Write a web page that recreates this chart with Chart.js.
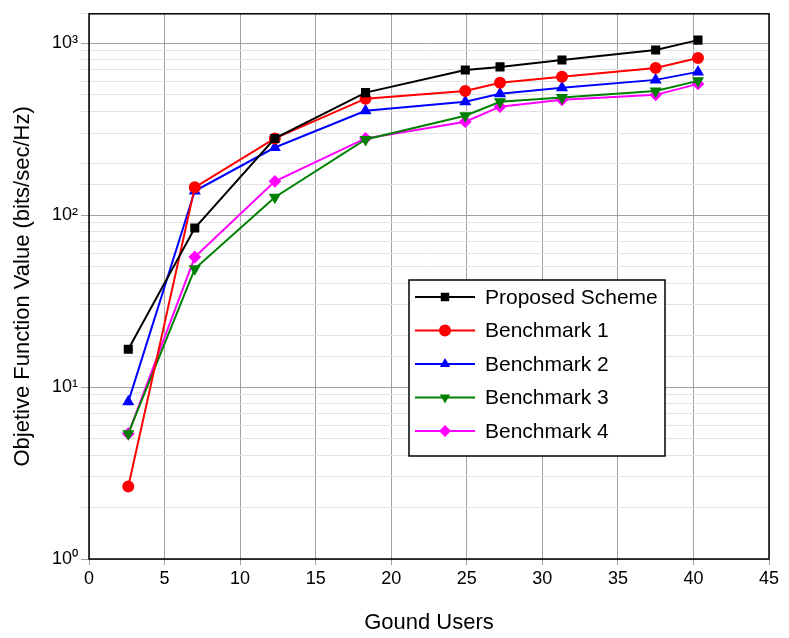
<!DOCTYPE html>
<html>
<head>
<script src="https://cdn.jsdelivr.net/npm/chart.js@4/dist/chart.umd.min.js"></script>
<style>
html, body { margin: 0; padding: 0; background: #fff; }
#wrap { width: 789px; height: 638px; }
</style>
</head>
<body>
<div id="wrap"><canvas id="c"></canvas></div>
<script>
// data
const users = [2.6, 7, 12.3, 18.3, 24.9, 27.2, 31.3, 37.5, 40.3];
const proposed = [16.6, 84, 279, 515, 698, 727, 798, 911, 1040];
const bench1 = [2.64, 145, 279, 475, 526, 588, 637, 716, 819];
const bench2 = [8.2, 138, 247, 404, 456, 507, 550, 611, 680];
const bench3 = [5.35, 48.7, 127, 275, 378, 456, 482, 526, 603];
const bench4 = [5.35, 57, 157, 279, 349, 427, 468, 500, 579];
const xTicks = [0, 5, 10, 15, 20, 25, 30, 35, 40, 45];
const sup = { 0: '\u2070', 1: '\u00b9', 2: '\u00b2', 3: '\u00b3' };

function pts(arr) {
    return users.map((x, i) => ({ x: x, y: arr[i] }));
}
function series(label, arr, color, style, rot) {
    return {
        label: label,
        data: pts(arr),
        borderColor: color,
        backgroundColor: color,
        borderWidth: 2,
        pointStyle: style,
        pointRotation: rot || 0,
        pointRadius: 5,
        pointHoverRadius: 5
    };
}

// legend drawn inside the plot
const insideLegend = {
    id: 'insideLegend',
    afterDraw(chart) {
        const c = chart.ctx;
        const x0 = 409, y0 = 280, w = 256, h = 176;
        c.save();
        c.fillStyle = '#fff';
        c.fillRect(x0, y0, w, h);
        c.strokeStyle = '#000';
        c.lineWidth = 1.5;
        c.strokeRect(x0, y0, w, h);
        c.font = '21px "Liberation Sans", Arial, sans-serif';
        c.textBaseline = 'middle';
        chart.data.datasets.forEach((ds, i) => {
            const y = y0 + 17 + i * 33.5;
            c.strokeStyle = ds.borderColor;
            c.lineWidth = 2;
            c.beginPath();
            c.moveTo(x0 + 6, y);
            c.lineTo(x0 + 66, y);
            c.stroke();
            c.fillStyle = ds.backgroundColor;
            Chart.helpers.drawPoint(c, { pointStyle: ds.pointStyle, rotation: ds.pointRotation, radius: 6, borderWidth: 0 }, x0 + 36, y);
            c.fillStyle = '#000';
            c.fillText(ds.label, x0 + 76, y + 1);
        });
        c.restore();
    }
};

const frame = {
    id: 'frame',
    afterDatasetsDraw(chart) {
        const a = chart.chartArea, c = chart.ctx;
        c.save();
        c.strokeStyle = '#000';
        c.lineWidth = 1.5;
        c.strokeRect(a.left, a.top, a.right - a.left, a.bottom - a.top);
        c.restore();
    }
};

new Chart(document.getElementById('c'), {
    type: 'line',
    data: {
        datasets: [
            series('Proposed Scheme', proposed, '#000000', 'rect'),
            series('Benchmark 1', bench1, '#ff0000', 'circle'),
            series('Benchmark 2', bench2, '#0000ff', 'triangle'),
            series('Benchmark 3', bench3, '#008000', 'triangle', 180),
            series('Benchmark 4', bench4, '#ff00ff', 'rectRot')
        ]
    },
    options: {
        responsive: true,
        maintainAspectRatio: false,
        animation: false,
        layout: { padding: { top: 10, right: 20 } },
        plugins: { legend: { display: false }, tooltip: { enabled: false } },
        scales: {
            x: {
                type: 'linear',
                min: 0, max: 45,
                afterBuildTicks: s => { s.ticks = xTicks.map(v => ({ value: v })); },
                afterFit: s => { s.height = 79; },
                grid: { color: '#a0a0a0', lineWidth: 1, tickLength: 6 },
                ticks: { color: '#000', font: { size: 18, family: '"Liberation Sans", Arial' } },
                title: { display: true, text: 'Gound Users', color: '#000', font: { size: 22, family: '"Liberation Sans", Arial' }, padding: 2 }
            },
            y: {
                type: 'logarithmic',
                min: 1, max: 1480,
                afterFit: s => { s.width = 89; },
                grid: {
                    color: ctx => {
                        const v = ctx.tick && ctx.tick.value;
                        const l = Math.log10(v);
                        return Math.abs(l - Math.round(l)) < 1e-6 ? '#a0a0a0' : '#e2e2e2';
                    },
                    lineWidth: 1
                },
                ticks: {
                    color: '#000',
                    font: { size: 18, family: '"Liberation Sans", Arial' },
                    autoSkip: false,
                    callback: v => {
                        const l = Math.log10(v);
                        return Math.abs(l - Math.round(l)) < 1e-6 ? '10' + sup[Math.round(l)] : '';
                    }
                },
                title: { display: true, text: 'Objetive Function Value (bits/sec/Hz)', color: '#000', font: { size: 22, family: '"Liberation Sans", Arial' }, padding: { top: 10, bottom: 2 } }
            }
        }
    },
    plugins: [frame, insideLegend]
});
</script>
</body>
</html>
